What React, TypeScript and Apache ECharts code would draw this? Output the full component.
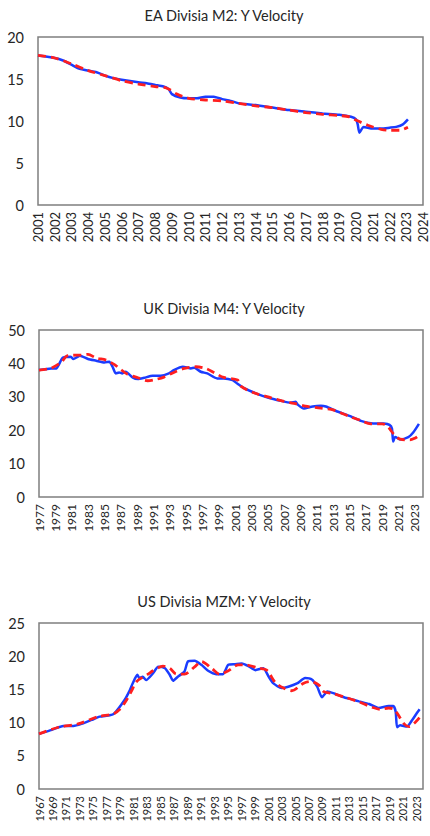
import React, { useEffect, useRef } from "react";
import * as echarts from "echarts";

// ---------- Data ----------
const titles = ["EA Divisia M2: Y Velocity", "UK Divisia M4: Y Velocity", "US Divisia MZM: Y Velocity"];

// EA Divisia M2
const eaYears = [2001, 2002, 2002.5, 2003, 2003.5, 2004, 2004.5, 2005, 2005.5, 2006, 2007, 2007.5, 2008, 2008.5, 2008.8, 2009, 2009.5, 2010, 2010.5, 2011, 2011.5, 2012, 2012.5, 2013, 2013.5, 2014, 2015, 2016, 2017, 2018, 2019, 2019.7, 2020, 2020.1, 2020.2, 2020.45, 2021, 2021.5, 2022, 2022.4, 2022.8, 2023.1];
const eaVelocity = [17.8, 17.5, 17.2, 16.7, 16.2, 16.0, 15.8, 15.4, 15.1, 14.9, 14.6, 14.5, 14.3, 14.1, 13.8, 13.2, 12.8, 12.7, 12.7, 12.9, 12.9, 12.6, 12.4, 12.1, 12.0, 11.9, 11.6, 11.3, 11.1, 10.9, 10.75, 10.5, 10.2, 9.6, 8.6, 9.3, 9.1, 9.1, 9.2, 9.3, 9.6, 10.2];
const eaTrendYears = [2001, 2002, 2003, 2004, 2005, 2006, 2007, 2008, 2008.7, 2009.3, 2010, 2011, 2012, 2013, 2014, 2015, 2016, 2017, 2018, 2019, 2019.6, 2020, 2020.7, 2021.5, 2022, 2022.6, 2023.1];
const eaTrend = [17.8, 17.5, 16.8, 16.0, 15.4, 14.8, 14.4, 14.1, 13.9, 13.2, 12.7, 12.5, 12.4, 12.1, 11.8, 11.6, 11.3, 11.0, 10.8, 10.65, 10.5, 10.1, 9.5, 9.0, 8.9, 8.9, 9.25];

// UK Divisia M4
const ukYears = [1977, 1978.5, 1979.1, 1979.9, 1980.9, 1981.2, 1982, 1983, 1984, 1985, 1985.6, 1986, 1986.4, 1986.8, 1987.2, 1987.6, 1988.5, 1989.1, 1989.9, 1990.9, 1991.9, 1992.9, 1993.5, 1994.6, 1995.6, 1996, 1996.8, 1997.6, 1998.8, 1999.6, 2000.7, 2001.3, 2002.1, 2003.7, 2005, 2006.6, 2007.8, 2008.4, 2008.7, 2009.4, 2010.5, 2011.5, 2012.1, 2013.5, 2015.1, 2016.4, 2017.6, 2019.2, 2019.9, 2020.2, 2020.35, 2020.6, 2021.2, 2022.2, 2022.8, 2023.5];
const ukVelocity = [38.0, 38.5, 38.5, 41.7, 42.0, 41.3, 42.3, 41.3, 40.8, 40.3, 40.5, 39.0, 37.0, 37.3, 37.0, 37.5, 35.7, 35.3, 35.7, 36.3, 36.3, 37.0, 38.0, 39.0, 38.5, 38.7, 37.5, 37.0, 35.5, 35.5, 35.0, 33.9, 32.6, 30.9, 29.8, 28.8, 28.2, 28.5, 27.6, 26.5, 27.1, 27.3, 27.1, 25.6, 24.2, 22.8, 22.1, 22.0, 21.6, 20.5, 16.6, 18.0, 17.2, 17.9, 19.3, 21.9];
const ukTrendYears = [1977, 1978.4, 1979.7, 1980.5, 1982.2, 1983, 1984, 1985.2, 1986.2, 1987, 1987.8, 1989.1, 1990.3, 1991.3, 1992.3, 1993.5, 1994.8, 1996.2, 1997.4, 1998.4, 1999.6, 2001.3, 2001.7, 2003.3, 2005.4, 2007, 2008.2, 2009.6, 2011.5, 2013.1, 2015, 2016.4, 2017.6, 2019, 2019.6, 2020.4, 2021.2, 2022.4, 2023, 2023.5];
const ukTrend = [38.0, 38.5, 40.3, 42.3, 42.5, 42.7, 41.6, 41.0, 39.7, 38.2, 36.8, 35.7, 34.8, 35.2, 35.9, 37.3, 38.5, 39.0, 38.5, 37.3, 35.8, 35.0, 33.2, 31.2, 29.7, 28.6, 28.0, 27.2, 26.6, 26.0, 24.1, 22.9, 21.9, 21.9, 21.3, 18.9, 17.3, 17.1, 17.6, 18.4];

// US Divisia MZM
const usYears = [1967, 1968.9, 1970.6, 1972.1, 1973.3, 1974.8, 1976, 1977.5, 1978.2, 1979.7, 1980.4, 1980.9, 1981.6, 1981.9, 1982.4, 1982.9, 1983.9, 1984.7, 1985.7, 1986.4, 1986.9, 1987.6, 1988.6, 1989.1, 1990.1, 1991.1, 1992.1, 1993.3, 1994.3, 1995.1, 1996.1, 1997.1, 1998.1, 1999.1, 2000.3, 2001.1, 2001.8, 2003, 2004, 2005.3, 2006.5, 2007.5, 2008.3, 2009, 2009.8, 2010.8, 2012, 2013.8, 2014.5, 2016, 2017.4, 2018.9, 2019.6, 2019.95, 2020.15, 2020.6, 2021.6, 2022.4, 2023, 2023.5];
const usVelocity = [8.3, 8.9, 9.5, 9.5, 9.8, 10.4, 10.9, 11.1, 11.4, 13.4, 14.7, 15.9, 17.2, 16.7, 16.9, 16.4, 17.4, 18.4, 18.2, 17.2, 16.3, 16.9, 17.7, 19.2, 19.3, 18.7, 17.8, 17.3, 17.3, 18.7, 18.8, 18.9, 18.5, 17.9, 18.2, 16.9, 15.9, 15.2, 15.4, 15.9, 16.7, 16.5, 15.4, 13.8, 14.7, 14.4, 13.9, 13.4, 13.2, 12.8, 12.2, 12.5, 12.5, 11.6, 9.3, 9.6, 9.4, 10.4, 11.3, 12.0];
const usTrendYears = [1967, 1969.9, 1972.8, 1975.8, 1978, 1979, 1980, 1980.7, 1981.5, 1983.2, 1983.9, 1985.4, 1986.4, 1987.4, 1988.6, 1990.1, 1991.1, 1992.6, 1993.8, 1995.1, 1996.6, 1997.6, 1999.6, 2000.8, 2002.1, 2003.3, 2004.5, 2006.2, 2007.2, 2008.5, 2009.2, 2010.5, 2012.5, 2014.5, 2016.5, 2017.7, 2018.9, 2019.7, 2020.3, 2021.2, 2021.9, 2022.9, 2023.6];
const usTrend = [8.3, 9.3, 9.8, 10.9, 11.3, 12.0, 13.4, 14.7, 16.2, 17.3, 17.8, 18.5, 18.2, 17.3, 17.3, 18.4, 19.2, 18.2, 17.3, 17.8, 18.7, 18.7, 18.2, 17.9, 16.0, 15.2, 14.8, 15.9, 16.2, 15.7, 14.7, 14.4, 13.8, 13.1, 12.3, 12.0, 12.2, 12.0, 11.2, 9.8, 9.4, 10.1, 10.9];

const xRanges = [[2001, 2024], [1977, 2024], [1967, 2024]];
const yMax = [20, 50, 25];
const yStep = [5, 10, 5];

const pair = (xs: number[], ys: number[]) => xs.map((x, i) => [x, ys[i]]);

export default function App() {
  const ref = useRef<HTMLDivElement>(null);
  useEffect(() => {
    if (!ref.current) return;
    const chart = echarts.init(ref.current, null, { renderer: "svg" });
    const font = "Lato, 'Open Sans', sans-serif";
    const grids = [
      { left: 38, top: 37, width: 385, height: 168 },
      { left: 39, top: 330, width: 384, height: 167 },
      { left: 39, top: 623, width: 384, height: 166 },
    ];
    const titleTops = [3, 296, 589];
    const xLabelSize = [13, 12, 11];
    const blue = [pair(eaYears, eaVelocity), pair(ukYears, ukVelocity), pair(usYears, usVelocity)];
    const red = [pair(eaTrendYears, eaTrend), pair(ukTrendYears, ukTrend), pair(usTrendYears, usTrend)];

    const option: any = {
      animation: false,
      backgroundColor: "#ffffff",
      title: titles.map((t, i) => ({
        text: t,
        left: 219,
        textAlign: "center",
        top: titleTops[i],
        textStyle: { fontFamily: font, fontSize: 14.5, fontWeight: "normal", color: "#262626" },
      })),
      grid: grids.map((g) => ({ ...g, show: true, borderColor: "#7f7f7f", borderWidth: 1.5, backgroundColor: "#fff" })),
      xAxis: xRanges.map((r, i) => ({
        type: "value",
        gridIndex: i,
        min: r[0],
        max: r[1],
        interval: 1,
        axisLine: { show: false },
        axisTick: { show: false },
        splitLine: { show: false },
        axisLabel: {
          rotate: 90,
          margin: 7,
          fontFamily: font,
          fontSize: xLabelSize[i],
          color: "#262626",
          showMinLabel: true,
          showMaxLabel: true,
          formatter: (v: number) => (i === 0 || (v - r[0]) % 2 === 0 ? String(v) : ""),
        },
      })),
      yAxis: yMax.map((m, i) => ({
        type: "value",
        gridIndex: i,
        min: 0,
        max: m,
        interval: yStep[i],
        axisLine: { show: false },
        axisTick: { show: false },
        splitLine: { show: false },
        axisLabel: { margin: 14, fontFamily: font, fontSize: 14.5, color: "#262626" },
      })),
      series: [0, 1, 2].flatMap((i) => [
        {
          type: "line",
          xAxisIndex: i,
          yAxisIndex: i,
          data: blue[i],
          showSymbol: false,
          smooth: 0.2,
          lineStyle: { color: "#1a3cff", width: 2.5 },
          z: 2,
        },
        {
          type: "line",
          xAxisIndex: i,
          yAxisIndex: i,
          data: red[i],
          showSymbol: false,
          smooth: 0.3,
          lineStyle: { color: "#ff1f1f", width: 2.8, type: [8, 5] },
          z: 3,
        },
      ]),
    };
    chart.setOption(option);
    return () => chart.dispose();
  }, []);
  return (
    <div
      ref={ref}
      style={{ position: "fixed", left: 0, top: 0, width: 430, height: 836, background: "#fff" }}
    />
  );
}
